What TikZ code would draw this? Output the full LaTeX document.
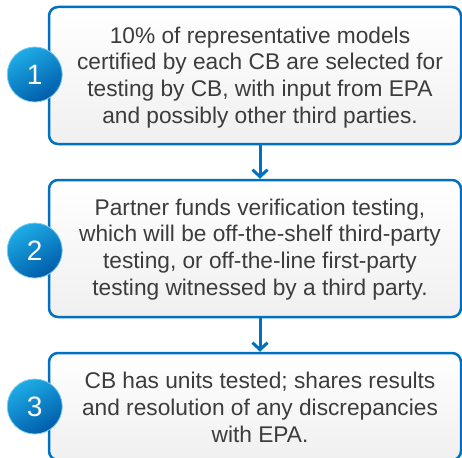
\documentclass[tikz,border=0pt]{standalone}
\usepackage{fontspec}
\setmainfont{Liberation Sans}
\usetikzlibrary{positioning,arrows.meta}
\definecolor{stepblue}{RGB}{0,112,192}
\definecolor{steptext}{RGB}{60,60,60}
\definecolor{numlight}{RGB}{30,172,230}
\definecolor{numdark}{RGB}{0,92,170}

\begin{document}
\begin{tikzpicture}[x=1pt, y=1pt, node distance=33.5pt,
    stepbox/.style={draw=stepblue, line width=2.5pt, rounded corners=9pt, top color=white, bottom color=gray!12, minimum width=412pt, minimum height=137pt},
    steptxt/.style={align=center, text=steptext, inner sep=0pt, font=\fontsize{22.7}{26.8}\selectfont},
    numball/.style={circle, draw=numlight!60!white, line width=0.8pt, minimum size=55pt, inner sep=0pt, top color=numlight, bottom color=numdark, shading angle=30, text=white, font=\fontsize{28}{28}\selectfont},
    flow/.style={draw=stepblue, line width=3pt, -{Straight Barb[length=7pt,width=15pt]}}]
    \clip (0,0) rectangle (462,-457);
    % the three steps
    \node[stepbox] (cb1) at (255,-75.5) {};
    \node[stepbox, below=of cb1] (cb2) {};
    \node[stepbox, below=of cb2, minimum height=107pt] (cb3) {};
    \node[steptxt] (t1) at ([xshift=5pt,yshift=-2pt]cb1.center) {10\% of representative models\\certified by each CB are selected for\\testing by CB, with input from EPA\\and possibly other third parties.};
    \node[steptxt] (t2) at ([xshift=5pt,yshift=-1pt]cb2.center) {Partner funds verification testing,\\which will be off-the-shelf third-party\\testing, or off-the-line first-party\\testing witnessed by a third party.};
    \node[steptxt] (t3) at ([xshift=5pt,yshift=-1pt]cb3.center) {CB has units tested; shares results\\and resolution of any discrepancies\\with EPA.};
    % numbers
    \node[numball] (n1) at ([xshift=-13pt,yshift=1pt]cb1.west) {1};
    \node[numball] (n2) at ([xshift=-13pt,yshift=-2pt]cb2.west) {2};
    \node[numball] (n3) at ([xshift=-13pt]cb3.west) {3};
    % arrows
    \draw[flow] ([xshift=5pt]cb1.south) -- ([xshift=5pt]cb2.north);
    \draw[flow] ([xshift=5pt]cb2.south) -- ([xshift=5pt]cb3.north);
\end{tikzpicture}
\end{document}
